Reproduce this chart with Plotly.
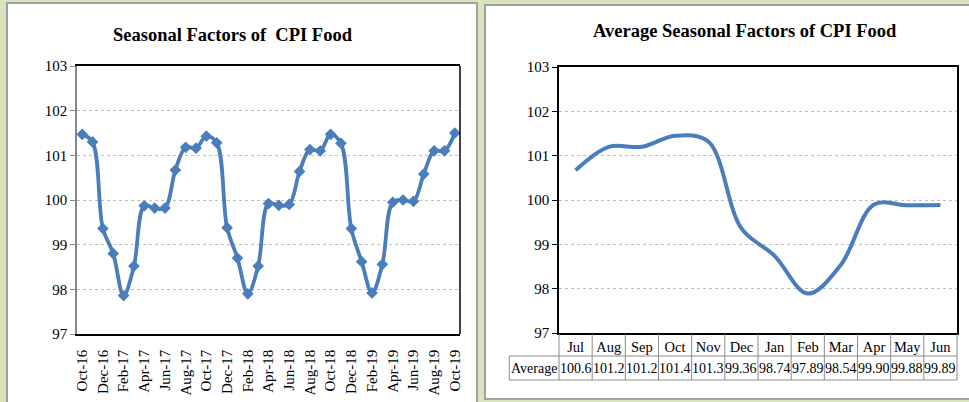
import plotly.graph_objects as go

# Monthly seasonal factors, Oct-16 .. Oct-19 (left chart)
months = ["Oct-16", "Nov-16", "Dec-16", "Jan-17", "Feb-17", "Mar-17", "Apr-17", "May-17",
          "Jun-17", "Jul-17", "Aug-17", "Sep-17", "Oct-17", "Nov-17", "Dec-17", "Jan-18",
          "Feb-18", "Mar-18", "Apr-18", "May-18", "Jun-18", "Jul-18", "Aug-18", "Sep-18",
          "Oct-18", "Nov-18", "Dec-18", "Jan-19", "Feb-19", "Mar-19", "Apr-19", "May-19",
          "Jun-19", "Jul-19", "Aug-19", "Sep-19", "Oct-19"]
factors = [101.47, 101.30, 99.36, 98.80, 97.86, 98.52, 99.87, 99.82,
           99.82, 100.67, 101.18, 101.16, 101.43, 101.28, 99.38, 98.70,
           97.90, 98.52, 99.92, 99.88, 99.90, 100.64, 101.13, 101.10,
           101.47, 101.27, 99.36, 98.62, 97.92, 98.56, 99.95, 100.00,
           99.97, 100.58, 101.10, 101.10, 101.50]

# Average seasonal factors by calendar month (right chart + table)
avg_months = ["Jul", "Aug", "Sep", "Oct", "Nov", "Dec", "Jan", "Feb", "Mar", "Apr", "May", "Jun"]
avg_values = [100.67, 101.20, 101.20, 101.45, 101.32, 99.36, 98.74, 97.89, 98.54, 99.90, 99.88, 99.89]
avg_labels = ["100.6", "101.2", "101.2", "101.4", "101.3", "99.36", "98.74", "97.89",
              "98.54", "99.90", "99.88", "99.89"]

W, H = 969, 402
BLUE = "#4a7ebb"
SERIF = "Liberation Serif"
GRID = "#bfbfbf"
TABLE_LINE = "#8c8c8c"


def px(x):
    return x / W


def py(y):
    return 1 - y / H


fig = go.Figure()

fig.add_trace(go.Scatter(
    x=months, y=factors, mode="lines+markers",
    line=dict(color=BLUE, width=3.8, shape="spline", smoothing=1),
    marker=dict(symbol="diamond", size=9, color=BLUE),
    xaxis="x", yaxis="y", showlegend=False,
))
fig.add_trace(go.Scatter(
    x=avg_months, y=avg_values, mode="lines",
    line=dict(color=BLUE, width=4, shape="spline", smoothing=1),
    xaxis="x2", yaxis="y2", showlegend=False,
))

left_dom = [px(77), px(460)]
right_dom = [px(559), px(957)]

yax = dict(range=[97, 103], dtick=1, showgrid=True, gridcolor=GRID, griddash="dot",
           gridwidth=1, ticks="outside", ticklen=5, zeroline=False, automargin=False,
           tickfont=dict(family=SERIF, size=15, color="black"))

fig.update_layout(
    width=W, height=H, autosize=False,
    margin=dict(l=0, r=0, t=0, b=0, autoexpand=False),
    paper_bgcolor="#d8e4bd",
    plot_bgcolor="white",
    font=dict(family=SERIF, color="black"),
    xaxis=dict(domain=left_dom, anchor="y", type="category", automargin=False,
               range=[-0.5, len(months) - 0.5], tickvals=months[::2],
               tickangle=-90, ticks="outside", ticklen=8, tickcolor="rgba(0,0,0,0)",
               showline=True, linecolor="black", linewidth=1.5, mirror=True,
               showgrid=False,
               tickfont=dict(family=SERIF, size=15, color="black")),
    yaxis=dict(domain=[py(334), py(66)], anchor="x", linecolor="#868686",
               tickcolor="#868686", showline=True, linewidth=1.5, **yax),
    xaxis2=dict(domain=right_dom, anchor="y2", type="category", automargin=False,
                range=[-0.5, len(avg_months) - 0.5], ticks="", showgrid=False,
                showline=True, linecolor="black", linewidth=1.5, mirror=True,
                tickfont=dict(family=SERIF, size=14.5, color="black")),
    yaxis2=dict(domain=[py(333), py(67)], anchor="x2", linecolor="black",
                tickcolor="black", showline=True, linewidth=1.5, mirror=True, **yax),
)

shapes = [
    # white panels
    dict(type="rect", xref="paper", yref="paper", x0=px(7), x1=px(477), y0=py(420), y1=py(3),
         fillcolor="white", line=dict(color="#a0a0a0", width=2), layer="below"),
    dict(type="rect", xref="paper", yref="paper", x0=px(485), x1=px(990), y0=py(399), y1=py(5),
         fillcolor="white", line=dict(color="#a0a0a0", width=2), layer="below"),
    # right edge of left plot area
    dict(type="line", xref="x domain", yref="y domain", x0=1, x1=1, y0=0, y1=1,
         line=dict(color="black", width=1.5)),
]

# data table under the right chart
n = len(avg_months)
colw = (right_dom[1] - right_dom[0]) / n
row_top, row_mid, row_bot = py(334), py(356), py(380)
avg_left = right_dom[0] - 1.5 * colw
for i in range(n + 1):
    xv = right_dom[0] + i * colw
    shapes.append(dict(type="line", xref="paper", yref="paper", x0=xv, x1=xv,
                       y0=row_bot, y1=row_top, line=dict(color=TABLE_LINE, width=1)))
shapes.append(dict(type="line", xref="paper", yref="paper", x0=avg_left, x1=avg_left,
                   y0=row_bot, y1=row_mid, line=dict(color=TABLE_LINE, width=1)))
for yv in (row_mid, row_bot):
    shapes.append(dict(type="line", xref="paper", yref="paper", x0=avg_left, x1=right_dom[1],
                       y0=yv, y1=yv, line=dict(color=TABLE_LINE, width=1)))

ann = dict(showarrow=False, xanchor="center", yanchor="middle")
annotations = [
    dict(text="<b>Seasonal Factors of  CPI Food</b>", xref="paper", yref="paper",
         x=px(233), y=py(35), font=dict(family=SERIF, size=18.5, color="black"), **ann),
    dict(text="<b>Average Seasonal Factors of CPI Food</b>", xref="paper", yref="paper",
         x=px(745), y=py(31), font=dict(family=SERIF, size=18.5, color="black"), **ann),
    dict(text="Average", xref="paper", yref="paper", x=(avg_left + right_dom[0]) / 2,
         y=(row_mid + row_bot) / 2, font=dict(family=SERIF, size=14, color="black"), **ann),
]
for m, lab in zip(avg_months, avg_labels):
    annotations.append(dict(text=lab, xref="x2", yref="paper", x=m, y=(row_mid + row_bot) / 2,
                            font=dict(family=SERIF, size=14, color="black"), **ann))

fig.update_layout(shapes=shapes, annotations=annotations)

# drop the default page margin so the figure sits flush in the window
fig.write_html("out.html", config={"displayModeBar": False},
               post_script="document.body.style.margin='0px';")
